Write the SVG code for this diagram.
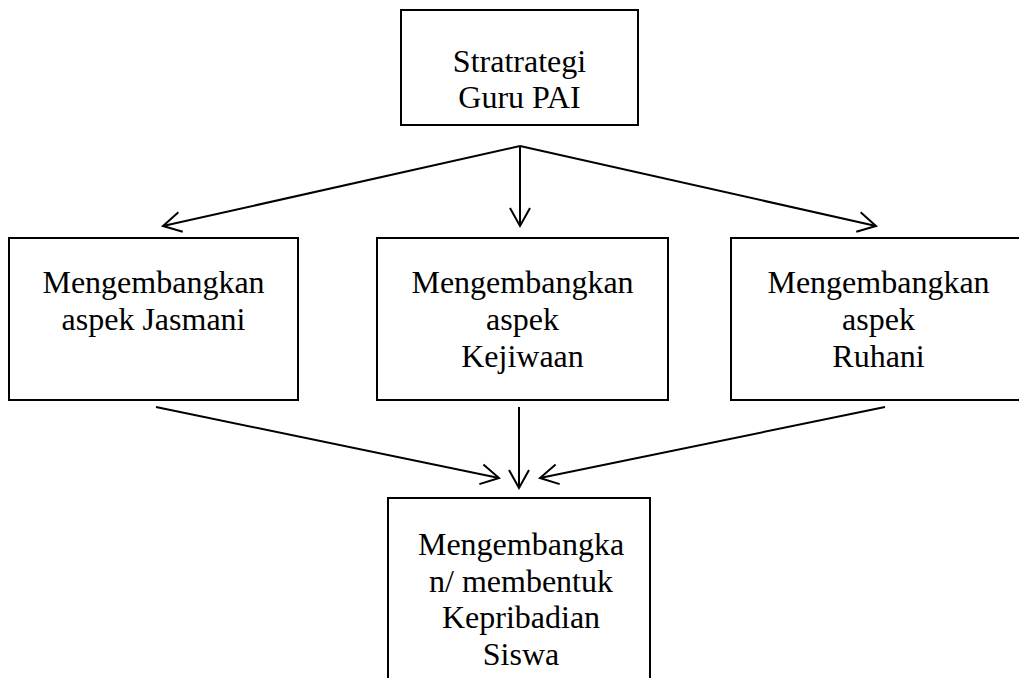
<svg xmlns="http://www.w3.org/2000/svg" width="1019" height="678" viewBox="0 0 1019 678">
<style>
.box{fill:#fff;stroke:#000;stroke-width:2}
.t{font-family:"Liberation Serif","Times New Roman",serif;font-size:32px;fill:#000;text-anchor:middle}
.c{fill:none;stroke:#000;stroke-width:2}
</style>
<defs>
<marker id="ah" markerUnits="userSpaceOnUse" markerWidth="24" markerHeight="24" viewBox="-20 -12 24 24" refX="0" refY="0" orient="auto">
<path d="M-18,-10 L0,0 L-18,10" fill="none" stroke="#000" stroke-width="2"/>
</marker>
</defs>
<rect width="1019" height="678" fill="#fff"/>
<g id="top">
<rect class="box" x="401" y="10" width="237" height="115"/>
<text class="t" x="519.5" y="72">Stratrategi</text>
<text class="t" x="519.5" y="108">Guru PAI</text>
</g>
<g id="jasmani">
<rect class="box" x="9" y="238" width="289" height="162"/>
<text class="t" x="153.5" y="293">Mengembangkan</text>
<text class="t" x="153.5" y="330">aspek Jasmani</text>
</g>
<g id="kejiwaan">
<rect class="box" x="377" y="238" width="291" height="162"/>
<text class="t" x="522.5" y="293">Mengembangkan</text>
<text class="t" x="522.5" y="330">aspek</text>
<text class="t" x="522.5" y="367">Kejiwaan</text>
</g>
<g id="ruhani">
<rect class="box" x="731" y="238" width="295" height="162"/>
<text class="t" x="878.5" y="293">Mengembangkan</text>
<text class="t" x="878.5" y="330">aspek</text>
<text class="t" x="878.5" y="367">Ruhani</text>
</g>
<g id="kepribadian">
<rect class="box" x="388" y="498" width="262" height="200"/>
<text class="t" x="521" y="555">Mengembangka</text>
<text class="t" x="521" y="592">n/ membentuk</text>
<text class="t" x="521" y="628">Kepribadian</text>
<text class="t" x="521" y="665">Siswa</text>
</g>
<g id="connectors">
<path class="c" d="M520,146 L163,226" marker-end="url(#ah)"/>
<path class="c" d="M520,146 L520,226" marker-end="url(#ah)"/>
<path class="c" d="M520,146 L876,226" marker-end="url(#ah)"/>
<path class="c" d="M156,407 L499,478" marker-end="url(#ah)"/>
<path class="c" d="M519,407 L519,488" marker-end="url(#ah)"/>
<path class="c" d="M885,407 L540,478" marker-end="url(#ah)"/>
</g>
</svg>
